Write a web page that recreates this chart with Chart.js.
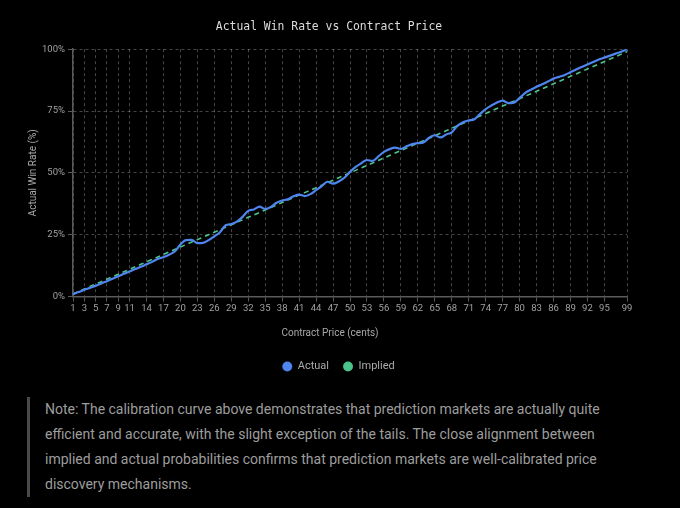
<!DOCTYPE html>
<html><head><meta charset="utf-8">
<script src="https://cdn.jsdelivr.net/npm/chart.js@4.4.1/dist/chart.umd.min.js"></script>
<style>
html,body{margin:0;padding:0;background:#000;}
#wrap{position:absolute;left:0;top:0;width:670px;height:382px;}
#note{position:absolute;left:27px;top:397px;width:580px;border-left:3px solid #4a4a4a;padding:0 0 0 15px;color:#9d9d9d;font-family:Roboto,"Noto Sans",sans-serif;font-size:14px;letter-spacing:0px;line-height:25px;}
</style></head><body>
<div id="wrap"><canvas id="c"></canvas></div>
<div id="note">Note: The calibration curve above demonstrates that prediction markets are actually quite efficient and accurate, with the slight exception of the tails. The close alignment between implied and actual probabilities confirms that prediction markets are well-calibrated price discovery mechanisms.</div>
<script>
const prices = [];
for (let p = 1; p <= 99; p++) prices.push(String(p));
const shownTicks = [1,3,5,7,9,11,14,17,20,23,26,29,32,35,38,41,44,47,50,53,56,59,62,65,68,71,74,77,80,83,86,89,92,95,99];
const yTicks = [0,25,50,75,100];
const actual = [
 1.0,1.8,2.7,3.5,4.3,5.3,6.2,7.2,8.2,9.2,
 10.1,11.1,12.0,13.0,14.0,15.2,15.9,16.9,18.2,21.0,
 22.8,22.9,21.6,21.7,22.8,24.3,26.0,28.8,29.3,30.3,
 32.2,34.6,35.2,36.3,35.4,36.2,37.9,38.8,39.3,40.5,
 41.2,40.6,41.4,43.0,44.6,46.4,45.6,46.5,48.0,50.4,
 52.4,53.9,55.2,54.8,56.6,58.5,59.6,60.2,59.7,60.7,
 61.6,62.0,62.3,64.2,65.2,64.3,65.5,66.4,69.0,70.5,
 71.2,71.7,73.8,75.8,77.2,78.4,79.2,78.2,78.4,80.3,
 82.3,83.6,84.8,85.8,86.9,88.1,88.8,89.6,90.7,91.8,
 92.8,93.8,94.8,95.8,96.6,97.4,98.2,99.0,100.0
];
const implied = [
 1,2,3,4,5,6,7,8,9,10,11,12,13,14,15,16,17,18,19,20,
 21,22,23,24,25,26,27,28,29,30,31,32,33,34,35,36,37,38,39,40,
 41,42,43,44,45,46,47,48,49,50,51,52,53,54,55,56,57,58,59,60,
 61,62,63,64,65,66,67,68,69,70,71,72,73,74,75,76,77,78,79,80,
 81,82,83,84,85,86,87,88,89,90,91,92,93,94,95,96,97,98,99
];

const gridColor = 'rgba(255,255,255,0.27)';
const axisColor = '#5a5a5a';
const tickFont = {family:'Roboto, "Noto Sans", sans-serif', size:9.5};
const titleFont = {family:'Roboto, "Noto Sans", sans-serif', size:10};

const shiftPlugin = {
  id:'shiftText',
  afterLayout(chart){
    if (chart.titleBlock) chart.titleBlock.left += 13;
    if (chart.legend) chart.legend.left += 32;
    const s = chart.scales.x;
    if (s && !s._patched){
      const orig = s.drawTitle;
      s.drawTitle = function(){ this.left -= 20; this.right -= 20; orig.call(this); this.left += 20; this.right += 20; };
      s._patched = true;
    }
  }
};

new Chart(document.getElementById('c'), {
  type:'line',
  data:{
    labels: prices,
    datasets:[
      {label:'Actual', data:actual, borderColor:'#4f85ee', backgroundColor:'#4f85ee', borderWidth:2.2, pointRadius:0, tension:0.4, cubicInterpolationMode:'monotone', order:1},
      {label:'Implied', data:implied, borderColor:'#4cc38a', backgroundColor:'#4cc38a', borderWidth:1.6, borderDash:[5,4], pointRadius:0, order:2}
    ]
  },
  plugins:[shiftPlugin],
  options:{
    responsive:true, maintainAspectRatio:false, animation:false,
    layout:{padding:{left:18,right:43,top:0,bottom:0}},
    plugins:{
      title:{display:true, text:'Actual Win Rate vs Contract Price', color:'#dcdcdc',
        font:{family:'"DejaVu Sans Mono", "Liberation Mono", monospace', size:11.4, weight:'normal'},
        padding:{top:20,bottom:15.5}},
      legend:{position:'bottom', labels:{usePointStyle:true, boxWidth:10, boxHeight:7, padding:14, color:'#aaa',
        font:{family:'Roboto, "Noto Sans", sans-serif', size:11},
        generateLabels(chart){
          return chart.data.datasets.map((ds,i)=>({text:ds.label, fillStyle:ds.borderColor, strokeStyle:ds.borderColor, lineWidth:0, lineDash:[], pointStyle:'circle', hidden:false, datasetIndex:i, fontColor:'#aaa'}));
        }}},
      tooltip:{enabled:false}
    },
    scales:{
      x:{
        grid:{color:gridColor, lineWidth:1, tickLength:5, tickColor:axisColor, tickBorderDash:[], drawTicks:true},
        border:{display:true, color:axisColor, width:1.5, dash:[3,3]},
        ticks:{autoSkip:false, maxRotation:0, color:'#a0a0a0', font:tickFont, padding:1},
        title:{display:true, text:'Contract Price (cents)', color:'#a8a8a8', font:titleFont, padding:{top:10,bottom:8}},
        afterBuildTicks(scale){
          scale.ticks = scale.ticks.filter(t => shownTicks.includes(Number(prices[t.value])));
        },
        afterFit(scale){ scale.height = 50.5; }
      },
      y:{
        min:0, max:100,
        grid:{color:gridColor, lineWidth:1, tickLength:5, tickColor:axisColor, tickBorderDash:[]},
        border:{display:true, color:axisColor, width:1.5, dash:[3,3]},
        ticks:{color:'#a0a0a0', font:tickFont, padding:3, callback:v=>v+'%'},
        title:{display:true, text:'Actual Win Rate (%)', color:'#a8a8a8', font:titleFont, padding:{top:9,bottom:4}},
        afterBuildTicks(scale){ scale.ticks = yTicks.map(v=>({value:v})); },
        afterFit(scale){ scale.width = 55; }
      }
    }
  }
});
</script>
</body></html>
